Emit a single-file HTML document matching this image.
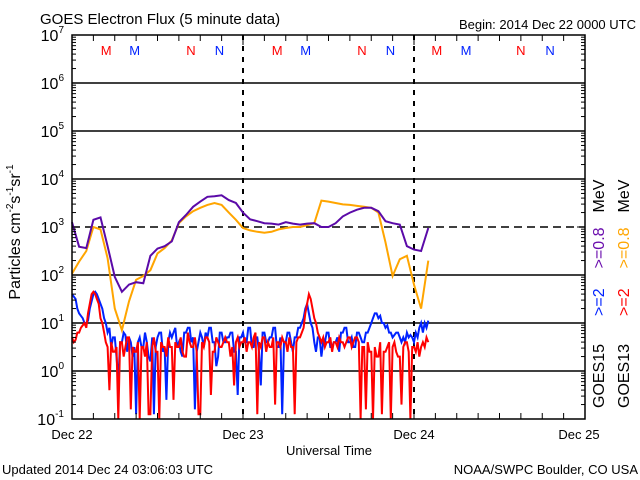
<!DOCTYPE html>
<html><head><meta charset="utf-8"><style>
html,body{margin:0;padding:0;background:#fff;}
svg{display:block;font-family:"Liberation Sans",sans-serif;}
</style></head><body>
<svg id="c" width="640" height="480" xmlns="http://www.w3.org/2000/svg">
<rect width="640" height="480" fill="#fff"/>
<text x="40" y="24" font-size="15">GOES Electron Flux (5 minute data)</text>
<text x="636" y="29" font-size="13" text-anchor="end">Begin: 2014 Dec 22 0000 UTC</text>
<g id="grid"></g>
<g id="series"></g>
<g id="axes"></g>
<text x="329" y="455" font-size="13" text-anchor="middle">Universal Time</text>
<text transform="translate(20,232) rotate(-90)" font-size="16" text-anchor="middle">Particles cm<tspan font-size="10" dy="-7">-2</tspan><tspan dy="7">s</tspan><tspan font-size="10" dy="-7">-1</tspan><tspan dy="7">sr</tspan><tspan font-size="10" dy="-7">-1</tspan></text>
<text x="2" y="474" font-size="13">Updated 2014 Dec 24 03:06:03 UTC</text>
<text x="638" y="474" font-size="13" text-anchor="end">NOAA/SWPC Boulder, CO USA</text>
<text transform="translate(604,408) rotate(-90)" font-size="16"><tspan fill="#000">GOES15</tspan><tspan dx="28" fill="#0022ff">&gt;=2</tspan><tspan dx="20" fill="#6a0dad">&gt;=0.8</tspan><tspan dx="15" fill="#000">MeV</tspan></text>
<text transform="translate(629,408) rotate(-90)" font-size="16"><tspan fill="#000">GOES13</tspan><tspan dx="28" fill="#ff0000">&gt;=2</tspan><tspan dx="20" fill="#ffa500">&gt;=0.8</tspan><tspan dx="15" fill="#000">MeV</tspan></text>
</svg>
<script>
const dayLabels=["Dec 22","Dec 23","Dec 24","Dec 25"];
const decades=[-1,0,1,2,3,4,5,6,7];
const purple=[3.1,2.59,2.56,3.15,3.2,2.6,1.96,1.65,1.8,1.85,1.83,2.4,2.55,2.6,2.7,3.1,3.25,3.42,3.53,3.63,3.64,3.66,3.56,3.5,3.3,3.16,3.12,3.08,3.07,3.05,3.1,3.07,3.05,3.07,3.08,3.0,3.0,3.08,3.22,3.3,3.36,3.4,3.4,3.33,3.12,3.08,3.05,2.6,2.53,2.5,2.98];
const orange=[2.03,2.28,2.5,3.0,2.95,2.35,1.3,0.85,1.45,1.9,1.98,2.1,2.45,2.56,2.72,3.08,3.22,3.33,3.4,3.46,3.5,3.46,3.3,3.15,2.98,2.93,2.9,2.88,2.9,2.95,2.98,3.0,3.0,3.04,3.08,3.55,3.53,3.5,3.47,3.46,3.44,3.42,3.4,3.3,2.68,1.98,2.33,2.4,1.8,1.3,2.3];
const blue=[1.6,1.55,1.5,1.3,1.2,1.15,1.1,1.0,1.0,1.05,1.3,1.45,1.6,1.65,1.6,1.5,
1.4,1.3,1.1,1.0,0.8,0.9,0.5,0.7,0.7,0.3,-0.2,0.6,0.6,0.8,0.75,0.4,
0.7,0.6,0.3,0.5,-0.9,0.6,0.7,0.5,0.5,0.8,0.6,0.3,0.2,0.7,-0.9,0.5,
0.7,0.8,0.8,0.4,0.5,-0.6,0.6,0.8,0.7,0.8,0.9,0.5,0.6,0.4,0.3,0.8,
0.8,0.9,0.9,0.6,0.7,-0.8,0.4,0.6,0.8,0.7,0.5,0.8,0.7,0.9,0.9,0.6,
0.6,0.1,0.3,0.8,0.8,0.6,0.6,0.7,0.7,0.8,0.8,0.4,0.4,-0.5,0.7,0.7,
0.8,0.6,0.6,0.9,0.9,0.5,0.5,0.7,0.7,0.4,-0.3,0.8,0.8,0.6,0.6,0.7,
0.7,0.9,0.9,0.5,0.5,0.7,-0.9,0.6,0.6,0.8,0.8,0.6,0.4,0.7,0.7,0.9,
0.9,1.0,1.1,1.3,1.4,1.2,1.0,0.9,0.6,0.4,0.7,0.7,0.3,0.6,0.6,0.8,
0.8,0.5,0.5,0.6,0.6,0.7,0.4,0.8,0.8,0.9,0.9,0.6,0.6,0.7,0.5,0.5,
0.8,0.8,0.7,0.6,0.6,0.8,0.8,0.9,1.0,1.1,1.2,1.2,1.1,1.15,1.0,1.0,
0.9,0.95,0.8,0.8,0.7,0.75,0.8,0.8,0.7,0.6,0.7,0.6,0.8,0.7,0.75,0.7,
0.6,0.8,0.7,0.9,1.0,0.8,1.0,0.9,1.05];
const red=[0.7,0.6,0.65,0.8,0.8,0.9,0.95,1.0,0.9,1.2,1.4,1.6,1.65,1.6,1.5,1.4,
1.1,1.0,0.8,0.6,0.5,-0.4,0.6,0.4,0.4,0.5,-1,0.6,0.6,0.3,0.5,0.7,
0.7,-0.8,0.5,0.4,0.4,0.6,-1,0.5,0.5,0.3,0.6,-0.9,-0.9,0.5,0.7,0.4,
0.4,-1,0.6,0.5,0.5,0.3,0.7,0.5,0.5,-0.6,0.6,0.5,0.5,0.7,0.4,0.3,
0.3,0.8,0.6,0.5,0.5,0.7,0.4,-0.9,-0.9,0.6,0.5,0.7,0.7,0.6,-0.5,0.4,
0.4,0.7,0.6,0.5,0.5,0.6,0.7,0.6,0.6,0.3,0.5,-0.3,0.6,0.7,0.5,0.6,
0.6,0.7,0.4,0.6,0.6,0.5,0.7,0.8,-0.9,0.6,0.5,0.7,0.7,0.4,0.6,0.5,
0.5,0.7,-0.7,0.6,0.6,0.5,0.7,0.6,0.6,0.4,0.7,0.5,0.5,-0.9,0.6,0.7,
0.7,0.8,0.9,1.2,1.4,1.6,1.5,1.3,1.1,1.0,0.8,0.7,0.6,0.7,0.5,0.6,
0.6,0.7,0.4,0.6,0.6,0.5,0.7,0.6,0.6,0.5,0.6,0.7,0.7,0.5,0.6,0.7,
0.7,0.6,-1,0.5,0.5,-0.8,0.6,0.4,0.4,-1,0.5,0.3,0.3,0.6,-0.9,0.4,
0.4,0.5,0.6,-1,0.5,0.6,0.4,0.3,0.3,-0.7,0.5,0.6,0.6,0.4,-1,0.5,
0.5,0.4,0.6,0.3,0.5,0.6,0.5,0.7,0.6];
const markLetters=["M","M","N","N"];
const markColors=["#ff0000","#0022ff","#ff0000","#0022ff"];
const markHours=[[4.8,8.8,16.7,20.7],[28.8,32.8,40.7,44.7],[51.2,55.3,63.0,67.1]];

const NS="http://www.w3.org/2000/svg";
const X0=72,X1=585,Y0=35,Y1=419;
const xS=h=>X0+(X1-X0)*h/72;
const yS=l=>Y1-(Y1-Y0)*(Math.max(-1,Math.min(7,l))+1)/8;
function mk(tag,attrs,parent){const e=document.createElementNS(NS,tag);for(const k in attrs)e.setAttribute(k,attrs[k]);parent.appendChild(e);return e;}
const grid=document.getElementById('grid'),axes=document.getElementById('axes'),ser=document.getElementById('series');

decades.forEach(d=>{
  if(d===-1||d===7)return;
  const l=mk('line',{x1:X0,x2:X1,y1:yS(d),y2:yS(d),stroke:'#000','stroke-width':1.5},grid);
  if(d===3)l.setAttribute('stroke-dasharray','8,5');
  
  
});
[1,2].forEach(i=>{
  const l=mk('line',{x1:xS(24*i),x2:xS(24*i),y1:Y0,y2:Y1,stroke:'#000','stroke-width':2,'stroke-dasharray':'5,6'},grid);
  
  
});

function poly(vals,step,color,name,w){
  const pts=vals.map((v,i)=>xS(i*step).toFixed(1)+','+yS(v).toFixed(1)).join(' ');
  const p=mk('polyline',{points:pts,fill:'none',stroke:color,'stroke-width':w,'stroke-linejoin':'miter'},ser);
  
  
}
poly(blue,0.25,'#0022ff','series-goes15-2mev',2);
poly(red,0.25,'#ff0000','series-goes13-2mev',2);
poly(orange,1,'#ffa500','series-goes13-08mev',2);
poly(purple,1,'#5b0aa8','series-goes15-08mev',2);

const fr=mk('rect',{x:X0,y:Y0,width:X1-X0,height:Y1-Y0,fill:'none',stroke:'#000','stroke-width':1.5},axes);


decades.forEach(d=>{
  const y=yS(d);
  const t=mk('text',{x:X0-8,y:y+6,'font-size':16,'text-anchor':'end'},axes);
  t.textContent='10';
  const s=mk('tspan',{'font-size':10,dy:-8},t);s.textContent=String(d);
  
  
  mk('line',{x1:X0,x2:X0+8,y1:y,y2:y,stroke:'#000'},axes);
  mk('line',{x1:X1,x2:X1-8,y1:y,y2:y,stroke:'#000'},axes);
  if(d<7)for(let m=2;m<10;m++){const ym=yS(d+Math.log10(m));mk('line',{x1:X0,x2:X0+4,y1:ym,y2:ym,stroke:'#000'},axes);mk('line',{x1:X1,x2:X1-4,y1:ym,y2:ym,stroke:'#000'},axes);}
});
for(let h=0;h<=72;h+=3){const x=xS(h),L=h%24===0?10:6;mk('line',{x1:x,x2:x,y1:Y1,y2:Y1-L,stroke:'#000'},axes);mk('line',{x1:x,x2:x,y1:Y0,y2:Y0+L,stroke:'#000'},axes);}
dayLabels.forEach((lab,i)=>{
  const t=mk('text',{x:xS(24*i)+(i===3?-6:0),y:439,'font-size':13,'text-anchor':'middle'},axes);
  t.textContent=lab;
  
  
});
markHours.forEach(day=>day.forEach((h,j)=>{
  const t=mk('text',{x:xS(h),y:55,'font-size':13,'text-anchor':'middle',fill:markColors[j]},axes);
  t.textContent=markLetters[j];
  
  
}));
</script>
</body></html>
